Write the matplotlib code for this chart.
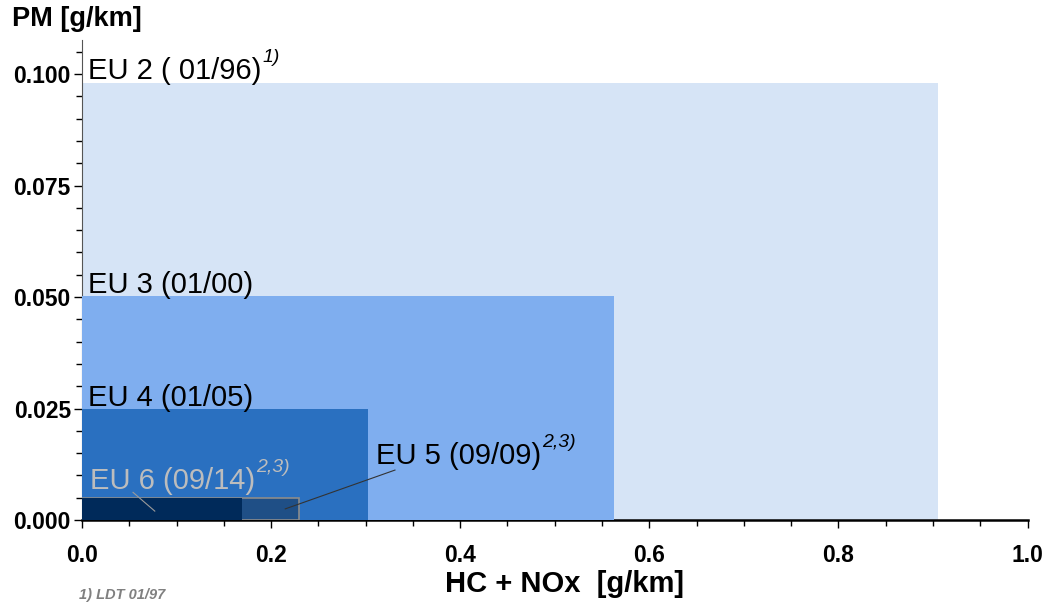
import matplotlib.pyplot as plt
from matplotlib.ticker import MultipleLocator, FormatStrFormatter
from matplotlib.patches import Rectangle

# emission limits
stages = ["EU 2 ( 01/96)", "EU 3 (01/00)", "EU 4 (01/05)", "EU 5 (09/09)", "EU 6 (09/14)"]
hc_nox = [0.905, 0.563, 0.303, 0.229, 0.169]
pm = [0.098, 0.0502, 0.025, 0.005, 0.005]
notes = ["1)", "", "", "2,3)", "2,3)"]
colors = ["#d6e4f6", "#7faeef", "#2a70c0", "#1f4f86", "#002a5a"]

plt.rcParams["font.family"] = ["Liberation Sans", "DejaVu Sans"]

fig = plt.figure(figsize=(10.55, 6.08), dpi=100)
ax = fig.add_axes([0.0777, 0.1447, 0.8963, 0.7893])

for i in range(len(stages)):
    edge = "#8c8c8c" if i == 3 else "none"
    ax.add_patch(Rectangle((0, 0), hc_nox[i], pm[i], facecolor=colors[i],
                           edgecolor=edge, linewidth=1.2, zorder=2 + i))

ax.set_xlim(0, 1.0)
ax.set_ylim(0, 0.1076)

# labels above the boxes
label_pos = [(0.006, 0.0975), (0.006, 0.0496), (0.006, 0.0243), (0.311, 0.0112), (0.008, 0.0055)]
label_col = ["black", "black", "black", "black", "#bdbdbd"]
for i in range(len(stages)):
    t = ax.text(label_pos[i][0], label_pos[i][1], stages[i], fontsize=21,
                color=label_col[i], ha="left", va="bottom", zorder=10)
    if notes[i]:
        ax.annotate(notes[i], xy=(1, 1.0), xycoords=t, xytext=(1, 0),
                    textcoords="offset points", fontsize=14, style="italic",
                    color=label_col[i], ha="left", va="center", zorder=10)

# leader lines
ax.plot([0.331, 0.215], [0.0112, 0.0025], color="#333333", lw=0.8, zorder=11)
ax.plot([0.054, 0.077], [0.0062, 0.0020], color="#9a9a9a", lw=0.8, zorder=11)

ax.xaxis.set_major_locator(MultipleLocator(0.2))
ax.xaxis.set_minor_locator(MultipleLocator(0.05))
ax.yaxis.set_major_locator(MultipleLocator(0.025))
ax.yaxis.set_minor_locator(MultipleLocator(0.005))
ax.xaxis.set_major_formatter(FormatStrFormatter("%.1f"))
ax.yaxis.set_major_formatter(FormatStrFormatter("%.3f"))

for s in ["top", "right"]:
    ax.spines[s].set_visible(False)
ax.spines["bottom"].set_linewidth(1.8)
ax.spines["left"].set_linewidth(0.8)
ax.spines["left"].set_color("#555555")
ax.tick_params(which="major", direction="out", length=6, width=1)
ax.tick_params(which="minor", direction="out", length=4, width=1)
ax.tick_params(axis="x", which="major", pad=11)
ax.tick_params(axis="y", which="major", pad=2)
for lab in ax.get_xticklabels() + ax.get_yticklabels():
    lab.set_fontweight("bold")
    lab.set_fontsize(16.5)

ax.set_xlabel("HC + NOx  [g/km]", fontsize=21, fontweight="bold")
ax.xaxis.set_label_coords(0.51, -0.104)
fig.text(0.011, 0.968, "PM [g/km]", fontsize=19.5, fontweight="bold",
         ha="left", va="center")
fig.text(0.075, 0.021, "1) LDT 01/97", fontsize=10.5, fontweight="bold",
         style="italic", color="#808080", ha="left", va="center")

fig.savefig("out.png", dpi=100)
